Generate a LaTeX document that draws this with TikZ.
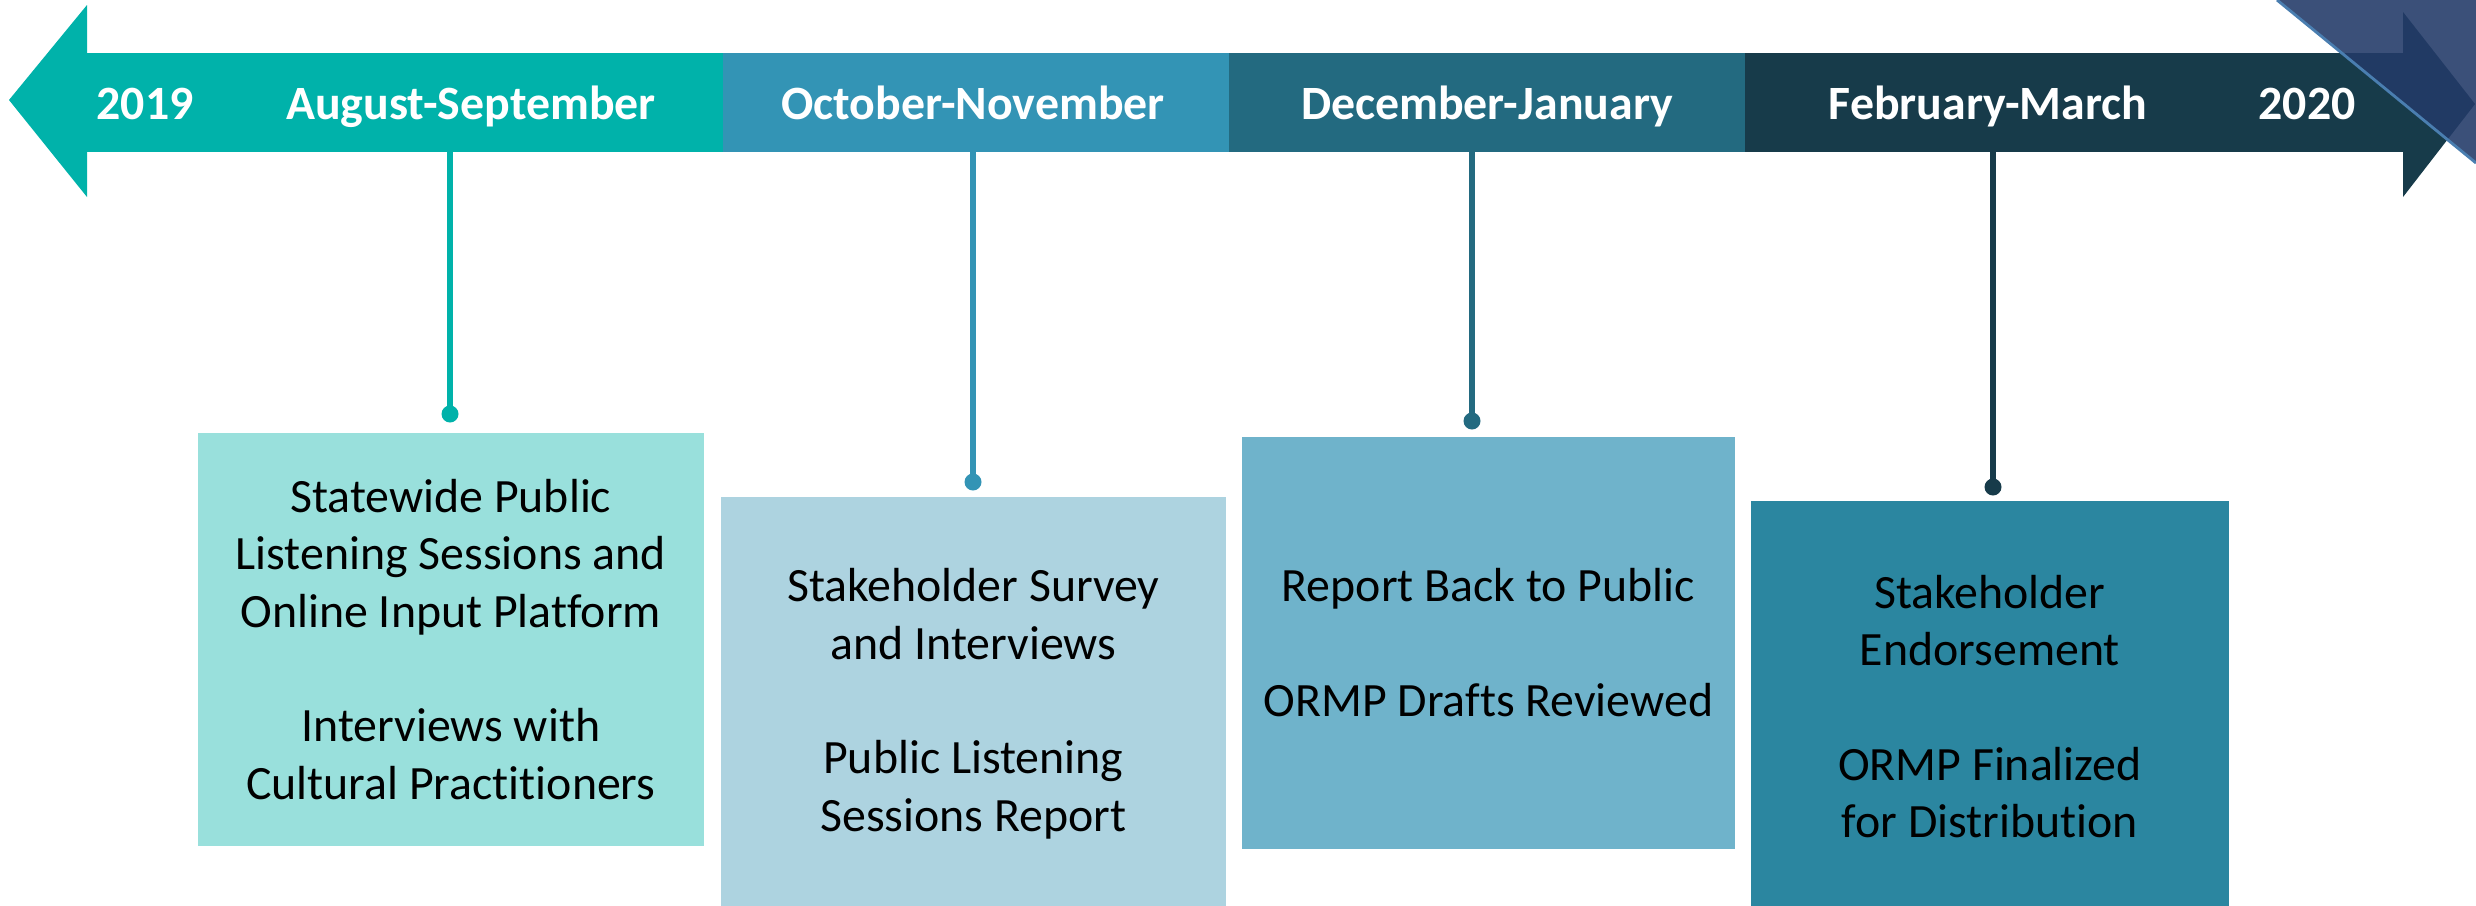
\documentclass[tikz,border=0pt]{standalone}
\usepackage{fontspec}
\setmainfont{Carlito}[Ligatures=NoCommon]
\usetikzlibrary{calc}

\definecolor{tlTeal}{HTML}{00B2AA}
\definecolor{tlBlue}{HTML}{3394B5}
\definecolor{tlDeep}{HTML}{236A80}
\definecolor{tlDark}{HTML}{173B4A}
\definecolor{cardA}{HTML}{99E0DC}
\definecolor{cardB}{HTML}{ADD3E0}
\definecolor{cardC}{HTML}{6FB3CB}
\definecolor{cardD}{HTML}{2B86A0}
\definecolor{navy}{HTML}{233A68}
\definecolor{edgeblue}{HTML}{4A7EB0}

\begin{document}
\begin{tikzpicture}[x=0.01cm,y=-0.01cm,font=\fontsize{13.6}{16.3}\selectfont,
  seg/.style={anchor=north west,inner sep=0pt,minimum height=0.99cm},
  bandlbl/.style={anchor=base,inner sep=0pt,text=white,font=\fontsize{13.6}{16.3}\selectfont\bfseries},
  card/.style={anchor=north west,inner sep=0pt,align=center,minimum height=4.13cm},
  stem/.style={line width=1.7pt}]

\useasboundingbox (0,0) rectangle (2476,905);
\clip (0,0) rectangle (2476,905);

\coordinate (d1) at (450,414);
\coordinate (d2) at (973,482);
\coordinate (d3) at (1472,421);
\coordinate (d4) at (1993,487);

\node[seg,fill=tlTeal,minimum width=6.37cm] (s1) at (86,52) {};
\node[seg,fill=tlBlue,minimum width=5.07cm] (s2) at (722,52) {};
\node[seg,fill=tlDeep,minimum width=5.17cm] (s3) at (1228,52) {};
\node[seg,fill=tlDark,minimum width=6.60cm] (s4) at (1744,52) {};
\fill[tlTeal] (9,100) -- (87,5) -- (87,197) -- cycle;
\fill[tlDark] (2403,12) -- (2475,104) -- (2403,197) -- cycle;

\node[bandlbl] (y19) at (145,119) {2019};
\node[bandlbl] (aug) at (471,119) {August-September};
\node[bandlbl] (oct) at (973,119) {October-November};
\node[bandlbl] (dec) at (1487,119) {December-January};
\node[bandlbl] (feb) at (1988,119) {February-March};
\node[bandlbl] (y20) at (2307,119) {2020};

\draw[stem,tlTeal] (s1.south -| d1) -- (d1);
\draw[stem,tlBlue] (s2.south -| d2) -- (d2);
\draw[stem,tlDeep] (s3.south -| d3) -- (d3);
\draw[stem,tlDark] (s4.south -| d4) -- (d4);
\fill[tlTeal] (d1) circle (0.085cm);
\fill[tlBlue] (d2) circle (0.085cm);
\fill[tlDeep] (d3) circle (0.085cm);
\fill[tlDark] (d4) circle (0.085cm);

\node[card,fill=cardA,minimum width=5.06cm] (b1) at (197,432)
  {Statewide Public\\Listening Sessions and\\Online Input Platform\\[16.3pt]Interviews with\\Cultural Practitioners};
\node[card,fill=cardB,minimum width=5.05cm,minimum height=4.14cm] (b2) at (720,496)
  {Stakeholder Survey\\and Interviews\\[16.3pt]Public Listening\\Sessions Report};
\node[card,fill=cardC,minimum width=4.93cm,minimum height=4.12cm] (b3) at (1241,436)
  {Report Back to Public\\[16.3pt]ORMP Drafts Reviewed};
\node[card,fill=cardD,minimum width=4.78cm,minimum height=4.12cm] (b4) at (1750,500)
  {Stakeholder\\Endorsement\\[16.3pt]ORMP Finalized\\for Distribution};

\fill[navy,opacity=0.89] (2277,0) -- (2476,0) -- (2476,163) -- cycle;
\draw[edgeblue,line width=0.8pt] (2277,0) -- (2476,163);

\end{tikzpicture}
\end{document}
